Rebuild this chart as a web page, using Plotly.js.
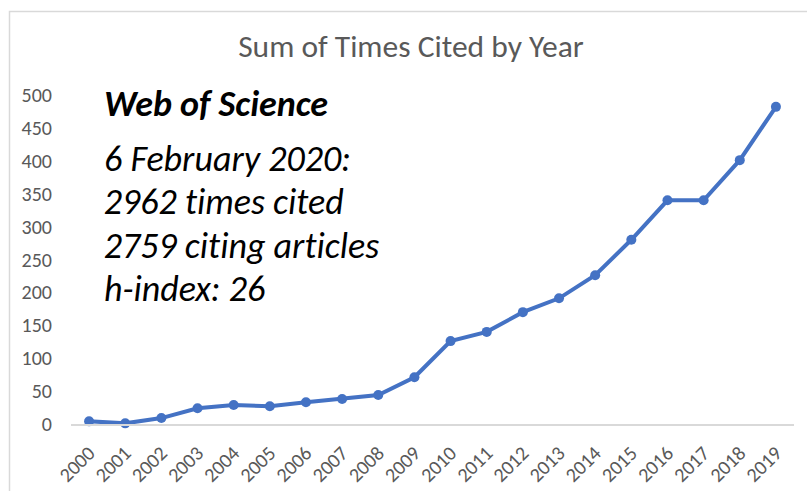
<!DOCTYPE html>
<html>
<head>
<meta charset="utf-8">
<script src="https://cdn.plot.ly/plotly-3.0.1.min.js"></script>
<style>
  html, body { margin: 0; padding: 0; background: #ffffff; }
  #chart { width: 807px; height: 491px; }
  #chart text { font-variant-ligatures: none; font-feature-settings: "liga" 0, "clig" 0; }
</style>
</head>
<body>
<div id="chart"></div>
<script>
const years = ["2000","2001","2002","2003","2004","2005","2006","2007","2008","2009",
               "2010","2011","2012","2013","2014","2015","2016","2017","2018","2019"];
const timesCited = [4, 1, 9, 24, 29, 27, 33, 38, 44, 71,
                    126, 140, 170, 191, 226, 280, 340, 340, 401, 482];
const yTicks = [0, 50, 100, 150, 200, 250, 300, 350, 400, 450, 500];
const chartTitle = "Sum of Times Cited by Year";
const infoHeading = "Web of Science";
const infoLines = ["6 February 2020:", "2962 times cited", "2759 citing articles", "h-index: 26"];

const W = 807, H = 491;
const M = {l: 71, r: 13, t: 95, b: 67};
const pw = W - M.l - M.r, ph = H - M.t - M.b;
const px2x = p => (p - M.l) / pw;
const px2y = p => (H - M.b - p) / ph;

const FONT = "Carlito, Calibri, Lato, sans-serif";
const GRAY = "#595959";

const annotations = [];
annotations.push({
  text: "<b><i>" + infoHeading + "</i></b>",
  xref: "paper", yref: "paper", x: px2x(102), y: px2y(104),
  xanchor: "left", yanchor: "middle", showarrow: false,
  font: {family: FONT, size: 36, color: "#000000"}
});
const lineCenters = [159, 202, 246, 289];
infoLines.forEach((t, i) => {
  annotations.push({
    text: "<i>" + t + "</i>",
    xref: "paper", yref: "paper", x: px2x(102), y: px2y(lineCenters[i]),
    xanchor: "left", yanchor: "middle", showarrow: false,
    font: {family: FONT, size: 36, color: "#000000"}
  });
});

const data = [{
  type: "scatter",
  mode: "lines+markers",
  x: years,
  y: timesCited,
  line: {color: "#4472C4", width: 4},
  marker: {color: "#4472C4", size: 10},
  cliponaxis: false,
  hoverinfo: "x+y"
}];

const layout = {
  width: W, height: H,
  margin: M,
  paper_bgcolor: "#ffffff",
  plot_bgcolor: "#ffffff",
  showlegend: false,
  title: {
    text: chartTitle,
    font: {family: FONT, size: 31.5, color: GRAY},
    x: 411 / W, xref: "container", xanchor: "center",
    y: 1 - 46 / H, yanchor: "middle"
  },
  xaxis: {
    type: "category",
    range: [-0.5, 19.5],
    showgrid: false,
    zeroline: false,
    showline: true,
    linecolor: "#d9d9d9",
    linewidth: 1.5,
    ticks: "outside",
    ticklen: 8,
    tickcolor: "rgba(0,0,0,0)",
    tickangle: -45,
    tickfont: {family: FONT, size: 20, color: GRAY}
  },
  yaxis: {
    range: [0, 500],
    tickvals: yTicks,
    showgrid: false,
    zeroline: false,
    showline: false,
    ticks: "outside",
    ticklen: 14,
    tickcolor: "rgba(0,0,0,0)",
    tickfont: {family: FONT, size: 20, color: GRAY}
  },
  annotations: annotations,
  shapes: [{
    type: "path",
    xref: "paper", yref: "paper",
    path: "M " + px2x(9.5) + "," + px2y(500) + " L " + px2x(9.5) + "," + px2y(11.5) +
          " L " + px2x(820) + "," + px2y(11.5),
    line: {color: "#d9d9d9", width: 1.5}
  }]
};

Plotly.newPlot("chart", data, layout, {displayModeBar: false, staticPlot: true});
</script>
</body>
</html>
